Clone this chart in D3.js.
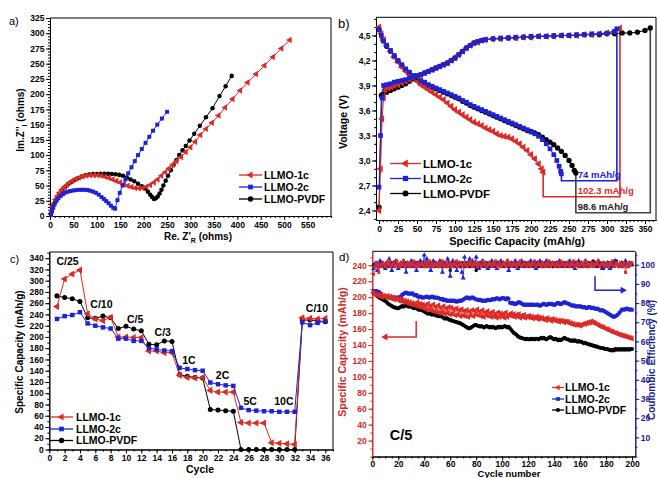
<!DOCTYPE html>
<html><head><meta charset="utf-8">
<script src="https://cdn.jsdelivr.net/npm/d3@7"></script>
<style>body{margin:0;background:#fff}svg{display:block}</style>
</head><body><svg id="c" width="658" height="478"></svg>
<script>
// ================= DATA =================
const seriesNames = ['LLMO-1c', 'LLMO-2c', 'LLMO-PVDF'];

// ---- panel a : Nyquist ----
const aTicksX = [0,50,100,150,200,250,300,350,400,450,500,550];
const aTicksY = [0,25,50,75,100,125,150,175,200,225,250,275,300,325];
const nyq1c = [[2,3],[4,9],[6,15],[9,21],[12,27],[16,33],[20,38],[25,43],[30,47],[36,51],[42,55],[48,58],[55,61],[62,63],[70,65],[78,66.5],[86,67],[94,67],[102,67],[110,66],[118,64.5],[126,62.5],[134,60],[142,57.5],[150,55],[158,52],[166,49.5],[174,47.5],[182,46],[190,45.5],[198,46],[206,48],[214,51],[222,55],[230,60],[238,66],[246,72],[254,78],[262,84],[270,90],[280,97],[290,105],[300,113],[310,122],[321,133],[333,143],[346,153],[360,165],[374,178],[390,192],[406,206],[422,219],[440,233],[458,247],[476,261],[494,275],[512,289]];
const nyq2c = [[2,2],[4,8],[7,14],[10,20],[14,25],[18,29],[23,33],[28,36],[33,38.5],[38,40],[44,41],[50,42],[56,42.5],[62,43],[68,43],[74,43],[80,42.5],[86,41.5],[92,40],[98,38],[104,35],[110,31],[115,28],[120,24.5],[125,21],[130,17],[135,13.5],[139,12],[144,26],[149,38],[155,50],[161,60],[167,70],[174,80],[181,90],[188,100],[196,110],[204,120],[212,130],[220,140],[229,150],[239,160],[250,171]];
const nyqPVDF = [[2,4],[4,10],[7,17],[11,23],[15,29],[20,35],[26,42],[32,47],[38,52],[45,56],[52,59],[60,62],[68,65],[76,67],[84,68],[92,69],[100,69],[108,69.5],[116,69.5],[124,69.5],[132,69],[140,68.5],[148,67.5],[156,66],[164,63],[172,60],[180,57],[188,53],[196,49],[203,45],[209,40],[214,35],[218,31],[222,28],[226,29],[230,32],[234,37],[238,43],[242,50],[247,58],[252,66],[258,75],[264,84],[270,92],[276,100],[283,108],[290,115],[298,124],[308,135],[320,148],[333,162],[347,177],[362,197],[375,213],[388,230]];

// ---- panel b : charge / discharge ----
const bTicksX = [0,25,50,75,100,125,150,175,200,225,250,275,300,325,350];
const bTicksY = [2.4,2.7,3.0,3.3,3.6,3.9,4.2,4.5];
const chg1c = [[0,2.40],[2,2.9],[4,3.5],[6,3.75],[8,3.85],[12,3.87],[16,3.88],[20,3.9],[25,3.91],[30,3.93],[35,3.95],[40,3.97],[45,3.99],[50,4.01],[55,4.03],[60,4.05],[65,4.07],[70,4.09],[75,4.11],[80,4.13],[85,4.15],[90,4.17],[95,4.2],[100,4.23],[105,4.27],[110,4.31],[115,4.35],[120,4.38],[125,4.41],[130,4.42],[135,4.44],[140,4.45],[150,4.46],[160,4.46],[170,4.47],[180,4.47],[190,4.48],[200,4.48],[210,4.49],[220,4.49],[230,4.49],[240,4.5],[250,4.5],[260,4.5],[270,4.51],[280,4.51],[290,4.52],[300,4.53],[310,4.55],[317,4.59]];
const chg2c = [[0,2.68],[2,3.3],[4,3.75],[6,3.9],[10,3.91],[15,3.92],[20,3.94],[25,3.95],[30,3.96],[35,3.97],[40,3.99],[45,4.0],[50,4.02],[55,4.03],[60,4.05],[65,4.07],[70,4.09],[75,4.11],[80,4.13],[85,4.15],[90,4.17],[95,4.2],[100,4.23],[105,4.27],[110,4.31],[115,4.35],[120,4.38],[125,4.41],[130,4.43],[135,4.44],[140,4.45],[150,4.46],[160,4.47],[170,4.47],[180,4.48],[190,4.48],[200,4.49],[210,4.49],[220,4.49],[230,4.5],[240,4.5],[250,4.5],[260,4.51],[270,4.51],[280,4.52],[290,4.52],[300,4.53],[310,4.55],[313,4.58]];
const chgPVDF = [[0,2.44],[3,3.78],[5,3.8],[10,3.82],[15,3.84],[20,3.86],[25,3.88],[30,3.9],[35,3.92],[40,3.95],[45,3.98],[50,4.0],[55,4.03],[60,4.05],[65,4.07],[70,4.09],[75,4.11],[80,4.13],[85,4.15],[90,4.17],[95,4.2],[100,4.23],[105,4.27],[110,4.31],[115,4.35],[120,4.38],[125,4.41],[130,4.42],[135,4.44],[140,4.45],[150,4.46],[160,4.46],[170,4.47],[180,4.47],[190,4.48],[200,4.48],[210,4.49],[220,4.49],[230,4.49],[240,4.5],[250,4.5],[260,4.5],[270,4.51],[280,4.51],[290,4.51],[300,4.52],[310,4.52],[320,4.53],[330,4.53],[340,4.54],[350,4.56],[357,4.59]];
const dis1c = [[0,4.6],[3,4.52],[6,4.45],[10,4.38],[15,4.31],[20,4.24],[25,4.18],[30,4.12],[35,4.07],[40,4.03],[45,3.99],[50,3.95],[55,3.91],[60,3.88],[65,3.85],[70,3.82],[75,3.79],[80,3.76],[85,3.73],[90,3.69],[95,3.65],[100,3.61],[105,3.58],[110,3.55],[115,3.52],[120,3.49],[125,3.46],[130,3.44],[135,3.42],[140,3.39],[145,3.37],[150,3.35],[155,3.32],[160,3.3],[165,3.29],[170,3.28],[175,3.26],[180,3.23],[185,3.2],[190,3.16],[195,3.12],[200,3.07],[205,3.02],[210,2.96],[214,2.9],[216,2.86]];
const dis2c = [[0,4.57],[3,4.5],[6,4.43],[10,4.38],[15,4.32],[20,4.26],[25,4.2],[30,4.15],[35,4.1],[40,4.06],[45,4.02],[50,3.99],[55,3.96],[60,3.94],[65,3.91],[70,3.89],[75,3.87],[80,3.85],[85,3.83],[90,3.81],[95,3.79],[100,3.77],[105,3.75],[110,3.72],[115,3.7],[120,3.67],[125,3.65],[130,3.63],[135,3.61],[140,3.59],[145,3.57],[150,3.55],[155,3.53],[160,3.51],[165,3.49],[170,3.47],[175,3.45],[180,3.43],[185,3.41],[190,3.39],[195,3.37],[200,3.34],[205,3.32],[210,3.29],[215,3.25],[220,3.2],[225,3.14],[230,3.07],[234,3.0],[237,2.93],[239,2.87],[240,2.84]];
const disPVDF = [[0,4.57],[5,4.45],[10,4.37],[15,4.31],[20,4.25],[25,4.19],[30,4.14],[35,4.09],[40,4.05],[45,4.01],[50,3.98],[55,3.95],[60,3.93],[65,3.9],[70,3.88],[75,3.86],[80,3.84],[85,3.82],[90,3.8],[95,3.78],[100,3.76],[105,3.74],[110,3.71],[115,3.69],[120,3.66],[125,3.64],[130,3.62],[135,3.6],[140,3.58],[145,3.56],[150,3.54],[155,3.52],[160,3.5],[165,3.48],[170,3.46],[175,3.44],[180,3.42],[185,3.4],[190,3.38],[195,3.36],[200,3.35],[205,3.33],[210,3.31],[215,3.28],[220,3.25],[225,3.22],[230,3.19],[235,3.15],[240,3.11],[245,3.06],[250,3.0],[254,2.94],[257,2.88],[259,2.85]];
const irr1c = [[216,2.86],[216,2.565],[317,2.565],[317,4.59]];
const irr2c = [[240,2.84],[240,2.757],[313,2.757],[313,4.58]];
const irrPVDF = [[259,2.85],[259,2.373],[357,2.373],[357,4.59]];
const irrLabels = ['102.3 mAh/g', '74 mAh/g', '98.6 mAh/g'];

// ---- panel c : rate capability ----
const cTicksX = [0,2,4,6,8,10,12,14,16,18,20,22,24,26,28,30,32,34,36];
const cTicksY = [0,20,40,60,80,100,120,140,160,180,200,220,240,260,280,300,320,340];
const cCycles = [1,2,3,4,5,6,7,8,9,10,11,12,13,14,15,16,17,18,19,20,21,22,23,24,25,26,27,28,29,30,31,32,33,34,35,36];
const rate1c = [254,303,312,319,241,232,229,235,200,200,199,199,175,175,172,172,132,128,127,128,105,102,102,102,48,47,47,47,12,11,10,9,234,233,232,233];
const rate2c = [232,237,239,244,224,220,217,215,197,197,193,193,180,178,176,175,145,143,141,140,119,116,114,113,74,70,69,68,68,67,67,67,226,221,225,228];
const ratePVDF = [273,270,268,263,234,233,237,234,215,219,214,211,187,186,193,192,133,130,128,127,71,70,69,68,0,0,0,0,0,0,0,0,230,230,229,227];
const rateNames = ['C/25','C/10','C/5','C/3','1C','2C','5C','10C','C/10'];

// ---- panel d : long cycling at C/5 ----
const dTicksX = [0,20,40,60,80,100,120,140,160,180,200];
const dTicksYL = [20,40,60,80,100,120,140,160,180,200,220,240];
const dTicksYR = [10,20,30,40,50,60,70,80,90,100];
const dCap1c = [206,203,204,202,203,201,203,200,202,201,200,202,199,201,198,200,197,199,198,196,198,195,197,194,196,193,195,192,194,191,193,190,192,189,194,188,192,187,191,186,190,184,192,185,189,183,191,182,188,181,190,180,187,181,189,179,186,180,188,178,187,179,185,177,186,178,184,176,185,177,183,176,184,175,182,177,184,176,183,178,185,177,182,176,184,175,181,177,183,176,180,175,182,176,179,174,181,175,180,176,179,174,181,175,178,177,180,176,179,175,178,176,179,174,177,175,178,174,176,175,177,174,176,173,175,174,176,172,175,173,174,172,173,171,174,172,172,170,173,171,172,170,171,169,171,170,170,168,170,169,169,167,168,166,167,165,166,165,166,164,165,166,167,166,168,167,169,168,170,168,168,167,166,165,164,163,163,162,161,160,160,159,158,157,157,156,155,155,154,153,153,152,152,151,151,150,150,149,149,148];
const dCap2c = [208,207,208,206,207,205,204,202,201,200,201,200,199,200,199,200,199,198,200,199,200,201,203,204,205,206,205,204,205,204,205,203,202,203,201,200,201,200,199,200,200,201,200,199,200,201,200,199,200,199,199,198,197,198,196,197,196,195,196,195,196,195,196,195,194,195,196,195,196,197,198,199,200,199,198,199,200,199,198,197,197,196,197,196,195,196,195,196,197,196,196,197,198,197,198,199,198,197,198,199,199,198,197,199,198,193,192,193,192,191,192,193,194,193,192,191,190,191,190,191,190,191,190,191,190,190,191,190,189,190,191,192,191,190,191,192,191,192,191,190,191,192,193,192,191,192,193,194,193,192,192,191,190,189,190,189,188,189,188,189,188,187,188,187,186,187,188,187,186,187,186,185,186,185,184,183,184,183,182,181,180,179,178,177,176,175,176,177,178,180,182,184,185,184,185,186,185,184,185,184];
const dCapPVDF = [205,204,203,201,200,199,198,197,196,195,194,192,191,190,189,188,187,187,186,186,187,188,189,188,189,190,189,188,189,188,187,186,187,186,185,184,185,184,183,182,181,180,179,180,179,178,179,178,177,177,176,177,176,175,174,173,174,173,172,171,171,170,170,169,169,168,168,167,166,165,164,163,162,161,161,162,163,164,165,165,164,164,163,164,163,162,163,164,163,162,163,162,163,162,161,162,163,162,163,162,163,164,163,162,163,161,159,157,155,154,153,151,150,149,149,148,148,147,148,147,147,148,147,148,147,148,148,147,148,149,148,149,148,147,148,149,150,149,148,147,148,147,146,147,146,147,148,149,148,147,147,146,145,146,145,146,145,144,145,144,144,143,142,143,142,141,141,140,140,139,139,138,138,137,137,136,136,136,135,135,135,134,134,133,134,133,135,134,135,134,135,134,135,134,135,134,135,134,135,135];
const dCE1c = [95,99,101,100,96,100,99,101,100,99,101,100,102,99,100,101,99,100,102,100,99,101,100,102,99,100,101,100,99,101,100,102,99,100,101,99,100,101,100,99,101,100,99,102,100,101,99,100,101,100,99,101,100,102,99,100,101,99,100,101,100,99,101,100,102,99,100,101,100,99,101,100,99,101,100,102,99,100,101,100,99,101,100,99,102,100,101,99,100,101,100,99,101,100,102,99,100,101,99,100,101,100,99,102,100,101,99,100,101,100,99,101,100,102,99,100,101,100,99,101,100,99,101,100,102,99,100,101,100,99,101,100,99,101,100,102,99,100,101,100,99,101,100,99,102,100,101,99,100,101,100,99,101,100,102,99,100,101,99,100,101,100,99,102,100,101,99,100,101,100,99,101,100,102,99,100,101,100,99,101,100,99,101,100,102,99,100,101,100,99,101,100,99,101,96,100,99,101,100,101];
const dCE2c = [98,100,101,97,100,102,99,101,100,98,101,99,103,100,97,101,99,102,100,98,100,101,99,102,100,96,101,99,100,102,99,101,100,97,101,100,102,99,101,105,100,103,99,101,97,100,102,99,101,100,99,102,100,96,101,99,100,103,101,94,100,102,99,101,97,100,101,99,96,93,104,100,99,101,103,100,102,99,101,104,100,98,101,100,102,99,101,100,98,101,100,102,99,101,100,98,101,100,102,99,101,100,99,102,97,100,101,99,100,102,100,98,101,100,102,99,101,100,99,101,100,102,99,101,100,98,101,100,102,99,101,100,99,102,100,101,99,100,101,100,99,101,100,102,99,100,101,100,99,101,100,102,99,101,100,98,101,100,102,99,101,100,99,102,100,101,99,100,101,100,99,101,100,102,99,100,98,101,100,99,101,100,98,101,100,99,102,101,100,99,100,101,99,100,102,100,99,101,100,100];
const dCEPVDF = [100,99,101,100,100,99,101,100,99,100,101,100,99,100,101,100,99,101,100,100,99,100,101,100,99,101,100,100,99,101,100,99,100,101,100,99,101,100,100,99,101,100,99,100,101,100,99,101,100,100,99,101,100,99,100,101,100,99,100,97,100,101,99,100,101,100,99,100,101,100,99,100,101,100,99,101,100,100,99,97,100,101,99,100,101,100,99,101,100,100,99,100,101,100,99,101,100,100,99,101,100,99,100,101,100,99,101,100,100,99,101,100,99,100,101,100,99,101,100,100,99,101,100,99,100,101,100,99,100,101,100,99,101,100,100,99,101,100,99,100,101,100,99,100,101,100,99,101,100,100,99,100,101,100,99,101,100,100,99,101,100,99,100,101,100,99,101,100,100,102,101,100,99,100,101,100,99,98,100,100,99,101,100,99,100,101,102,102,100,99,100,101,99,100,101,100,99,100,101,100];

// ================= DRAWING =================
const FONT = '"Liberation Sans", Arial, sans-serif';
const RED = '#dc2a26', BLUE = '#1e22d2', BLACK = '#000', NAVY = '#1c1c8e', DRED = '#cc2a2a';
const svg = d3.select('#c');
svg.append('rect').attr('width', 658).attr('height', 478).attr('fill', '#fff');

const SYM = {
  tri: {s: d3.symbolTriangle, rot: -90},
  sq: {s: d3.symbolSquare, rot: 0},
  circ: {s: d3.symbolCircle, rot: 0},
  up: {s: d3.symbolTriangle, rot: 0}
};
const seriesStyle = [
  {color: RED, sym: 'tri'},
  {color: BLUE, sym: 'sq'},
  {color: BLACK, sym: 'circ'}
];

function txt(g, x, y, s, size, opts = {}) {
  const t = g.append('text').attr('x', x).attr('y', y).attr('font-family', FONT)
    .attr('font-size', size).attr('font-weight', opts.weight || 'bold')
    .attr('fill', opts.color || '#000').attr('text-anchor', opts.anchor || 'start');
  if (opts.rotate) t.attr('transform', `rotate(${opts.rotate},${x},${y})`);
  t.text(s);
  return t;
}

function axis(g, fn, scale, tr, major, minor, fmt, color, fs, pad) {
  const a1 = g.append('g').attr('transform', tr)
    .call(fn(scale).tickValues(minor).tickSize(2).tickSizeOuter(0).tickFormat(''));
  const a2 = g.append('g').attr('transform', tr)
    .call(fn(scale).tickValues(major).tickSize(4).tickSizeOuter(0).tickPadding(pad == null ? 1.5 : pad).tickFormat(fmt));
  [a1, a2].forEach(a => {
    a.attr('font-family', FONT).attr('font-size', fs).attr('font-weight', 'bold');
    a.select('.domain').attr('stroke', color).attr('stroke-width', 1);
    a.selectAll('line').attr('stroke', color).attr('stroke-width', 1);
    a.selectAll('text').attr('fill', color);
  });
}

function series(g, x, y, pts, color, symKey, area, lw) {
  g.append('path').datum(pts)
    .attr('d', d3.line().x(d => x(d[0])).y(d => y(d[1])))
    .attr('fill', 'none').attr('stroke', color).attr('stroke-width', lw || 1);
  const sy = SYM[symKey];
  const p = d3.symbol(sy.s, area)();
  g.append('g').selectAll('path').data(pts).join('path')
    .attr('d', p).attr('fill', color)
    .attr('transform', d => `translate(${x(d[0])},${y(d[1])}) rotate(${sy.rot})`);
}

function legend(g, x0, x1, tx, rows, fs, area, symArea) {
  seriesNames.forEach((n, i) => {
    const st = seriesStyle[i];
    g.append('line').attr('x1', x0).attr('x2', x1).attr('y1', rows[i]).attr('y2', rows[i])
      .attr('stroke', st.color).attr('stroke-width', 1.3);
    const sy = SYM[st.sym];
    g.append('path').attr('d', d3.symbol(sy.s, symArea)()).attr('fill', st.color)
      .attr('transform', `translate(${(x0 + x1) / 2},${rows[i]}) rotate(${sy.rot})`);
    txt(g, tx, rows[i] + fs * 0.36, n, fs);
  });
}

function frame(g, l, r, t, b, right) {
  g.append('path').attr('d', `M${l},${t}H${r}` + (right ? `V${b}` : ''))
    .attr('fill', 'none').attr('stroke', '#000').attr('stroke-width', 1);
}

const range = (a, b, s) => d3.range(a, b + s / 2, s);

// ---------- Panel a ----------
{
  const g = svg.append('g');
  const L = 50, R = 331, T = 18, B = 216;
  const x = d3.scaleLinear().domain([0, 600]).range([L, R]);
  const y = d3.scaleLinear().domain([0, 325]).range([B, T]);
  frame(g, L, R, T, B, true);
  axis(g, d3.axisBottom, x, `translate(0,${B})`, aTicksX, range(0, 600, 10), d3.format('d'), '#000', 8.5);
  axis(g, d3.axisLeft, y, `translate(${L},0)`, aTicksY, range(0, 325, 5), d3.format('d'), '#000', 8.5);
  series(g, x, y, nyqPVDF, BLACK, 'circ', 16);
  series(g, x, y, nyq1c, RED, 'tri', 18);
  series(g, x, y, nyq2c, BLUE, 'sq', 16);
  legend(g, 239, 262, 264, [175, 187, 199], 10.5, 0, 22);
  txt(g, 9, 25, 'a)', 11, {weight: 'normal'});
  const yt = g.append('text').attr('font-family', FONT).attr('font-size', 10).attr('font-weight', 'bold')
    .attr('text-anchor', 'middle').attr('transform', 'translate(24,120) rotate(-90)');
  yt.append('tspan').text("Im.Z''");
  yt.append('tspan').attr('font-size', 7).attr('dy', 3).text('i');
  yt.append('tspan').attr('dy', -3).text(' (ohms)');
  const xt = g.append('text').attr('font-family', FONT).attr('font-size', 10).attr('font-weight', 'bold')
    .attr('text-anchor', 'middle').attr('x', 198).attr('y', 240);
  xt.append('tspan').text("Re. Z'");
  xt.append('tspan').attr('font-size', 7).attr('dy', 3).text('R');
  xt.append('tspan').attr('dy', -3).text(' (ohms)');
}

// ---------- Panel b ----------
{
  const g = svg.append('g');
  const L = 376, R = 656, T = 17.3, B = 220;
  const x = d3.scaleLinear().domain([-4, 364.5]).range([L, R]);
  const y = d3.scaleLinear().domain([2.286, 4.718]).range([B, T]);
  frame(g, L, R, T, B, true);
  axis(g, d3.axisBottom, x, `translate(0,${B})`, bTicksX, range(0, 360, 5), d3.format('d'), '#000', 8.5);
  axis(g, d3.axisLeft, y, `translate(${L},0)`, bTicksY, range(2.3, 4.7, 0.1), d => d.toFixed(1).replace('.', ','), '#000', 8.5);
  const boxes = [[irr1c, RED], [irr2c, BLUE], [irrPVDF, '#444']];
  boxes.forEach(([pts, c]) => {
    g.append('path').datum(pts).attr('d', d3.line().x(d => x(d[0])).y(d => y(d[1])))
      .attr('fill', 'none').attr('stroke', c).attr('stroke-width', 1.6);
  });
  series(g, x, y, disPVDF, BLACK, 'circ', 22);
  series(g, x, y, dis1c, RED, 'tri', 22);
  series(g, x, y, dis2c, BLUE, 'sq', 22);
  series(g, x, y, chgPVDF, BLACK, 'circ', 22);
  series(g, x, y, chg1c, RED, 'tri', 22);
  series(g, x, y, chg2c, BLUE, 'sq', 22);
  txt(g, x(261.5), y(2.79), irrLabels[1], 9.5, {color: BLUE});
  txt(g, x(261.5), y(2.595), irrLabels[0], 9.5, {color: RED});
  txt(g, x(261.5), y(2.405), irrLabels[2], 9.5, {color: '#222'});
  legend(g, 390, 421, 423, [163.5, 178.5, 193.5], 11.5, 0, 28);
  txt(g, 338, 28, 'b)', 13, {weight: 'normal'});
  txt(g, 347, 122, 'Voltage (V)', 10.5, {anchor: 'middle', rotate: -90});
  txt(g, 517, 245, 'Specific Capacity (mAh/g)', 11, {anchor: 'middle'});
}

// ---------- Panel c ----------
{
  const g = svg.append('g');
  const L = 49.3, R = 333, T = 252, B = 449.5;
  const x = d3.scaleLinear().domain([0, 37]).range([L, R]);
  const y = d3.scaleLinear().domain([0, 351]).range([B, T]);
  frame(g, L, R, T, B, true);
  axis(g, d3.axisBottom, x, `translate(0,${B})`, cTicksX, range(0, 37, 1), d3.format('d'), '#000', 8.5);
  axis(g, d3.axisLeft, y, `translate(${L},0)`, cTicksY, range(0, 350, 10), d3.format('d'), '#000', 8.5);
  const pts = arr => cCycles.map((c, i) => [c, arr[i]]);
  series(g, x, y, pts(ratePVDF), BLACK, 'circ', 20);
  series(g, x, y, pts(rate1c), RED, 'tri', 22);
  series(g, x, y, pts(rate2c), BLUE, 'sq', 20);
  const lp = [[2.37, 328], [6.8, 251], [11.2, 224], [14.8, 202], [18.2, 152.5], [22.6, 126], [26.2, 79], [30.6, 79], [34.9, 244]];
  rateNames.forEach((n, i) => txt(g, x(lp[i][0]), y(lp[i][1]), n, 10.5, {anchor: 'middle'}));
  legend(g, 50, 73, 76, [417, 429, 440.5], 10.5, 0, 22);
  txt(g, 10, 263, 'c)', 11, {weight: 'normal'});
  txt(g, 23, 352, 'Specific Capacity (mAh/g)', 10, {anchor: 'middle', rotate: -90});
  txt(g, 200, 473, 'Cycle', 10.5, {anchor: 'middle'});
}

// ---------- Panel d ----------
{
  const g = svg.append('g');
  const L = 372.3, R = 635.3, T = 251.3, B = 456.5;
  const x = d3.scaleLinear().domain([0, 202.5]).range([L, R]);
  const yL = d3.scaleLinear().domain([0, 257.6]).range([B, T]);
  const yR = d3.scaleLinear().domain([0, 107]).range([B, T]);
  frame(g, L, R, T, B, false);
  axis(g, d3.axisBottom, x, `translate(0,${B})`, dTicksX, range(0, 200, 5), d3.format('d'), '#000', 8.5, 0);
  axis(g, d3.axisLeft, yL, `translate(${L},0)`, dTicksYL, range(0, 250, 10), d3.format('d'), DRED, 8.5);
  axis(g, d3.axisRight, yR, `translate(${R},0)`, dTicksYR, range(0, 105, 5), d3.format('d'), NAVY, 8.5);
  const pts = arr => arr.map((v, i) => [i + 1, v]);
  series(g, x, yR, pts(dCEPVDF), BLACK, 'circ', 9, 0.8);
  series(g, x, yR, pts(dCE2c), BLUE, 'up', 11, 0.8);
  series(g, x, yR, pts(dCE1c), RED, 'sq', 9, 0.8);
  series(g, x, yL, pts(dCapPVDF), BLACK, 'circ', 12, 0.8);
  series(g, x, yL, pts(dCap2c), BLUE, 'sq', 12, 0.8);
  series(g, x, yL, pts(dCap1c), RED, 'tri', 14, 0.8);
  // arrows
  const arr1 = [[33.8, 170], [33.8, 150], [11.2, 150]];
  g.append('path').datum(arr1).attr('d', d3.line().x(d => x(d[0])).y(d => yL(d[1])))
    .attr('fill', 'none').attr('stroke', RED).attr('stroke-width', 1.5);
  g.append('path').attr('d', d3.symbol(d3.symbolTriangle, 22)()).attr('fill', RED)
    .attr('transform', `translate(${x(10)},${yL(150)}) rotate(-90)`);
  const arr2 = [[171.5, 94], [171.5, 86.7], [191.5, 86.7]];
  g.append('path').datum(arr2).attr('d', d3.line().x(d => x(d[0])).y(d => yR(d[1])))
    .attr('fill', 'none').attr('stroke', BLUE).attr('stroke-width', 1.5);
  g.append('path').attr('d', d3.symbol(d3.symbolTriangle, 22)()).attr('fill', BLUE)
    .attr('transform', `translate(${x(192.8)},${yR(86.7)}) rotate(90)`);
  txt(g, x(13.5), yL(21), 'C/5', 14.5);
  legend(g, 552, 564, 565, [387.5, 399, 410], 10.5, 0, 14);
  txt(g, 339, 261, 'd)', 11.5, {weight: 'normal'});
  txt(g, 346, 352, 'Specific Capacity (mAh/g)', 10.5, {anchor: 'middle', rotate: -90, color: DRED});
  txt(g, 655, 360, 'Coulombic Efficiency (%)', 10, {anchor: 'middle', rotate: -90, color: NAVY});
  txt(g, 509, 477, 'Cycle number', 9.5, {anchor: 'middle'});
}
</script></body></html>
